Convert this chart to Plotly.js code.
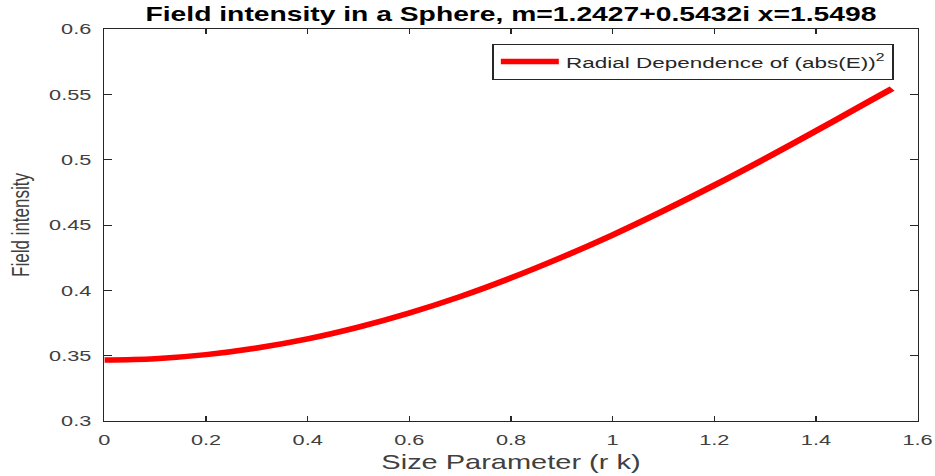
<!DOCTYPE html>
<html>
<head>
<meta charset="utf-8">
<script src="https://cdn.plot.ly/plotly-3.0.1.min.js"></script>
<style>
  html, body { margin: 0; padding: 0; background: #ffffff; }
  #frame { width: 935px; height: 476px; overflow: hidden; }
  /* the figure is drawn narrow and widened, like a stretched MATLAB export */
  #chart { width: 645px; height: 476px; transform: scaleX(1.4496); transform-origin: 0 0; }
</style>
</head>
<body>
<div id="frame"><div id="chart"></div></div>
<script>
// Radial dependence of |E|^2 inside the sphere (size parameter r*k)
const sizeParam = [0, 0.1, 0.2, 0.3, 0.4, 0.5, 0.6, 0.7, 0.8, 0.9, 1.0,
                   1.1, 1.2, 1.3, 1.4, 1.5, 1.5498];
const fieldIntensity = [0.3467, 0.3477, 0.3508, 0.3559, 0.3629, 0.3719, 0.3827,
                        0.3952, 0.4095, 0.4253, 0.4424, 0.4609, 0.4804, 0.5008,
                        0.5220, 0.5436, 0.5544];

const xTicks = [0, 0.2, 0.4, 0.6, 0.8, 1, 1.2, 1.4, 1.6];
const xTickText = ['0', '0.2', '0.4', '0.6', '0.8', '1', '1.2', '1.4', '1.6'];
const yTicks = [0.3, 0.35, 0.4, 0.45, 0.5, 0.55, 0.6];
const yTickText = ['0.3', '0.35', '0.4', '0.45', '0.5', '0.55', '0.6'];

const FONT = 'Liberation Sans, Arial, Helvetica, sans-serif';
const AXIS = '#262626';

const trace = {
  x: sizeParam,
  y: fieldIntensity,
  type: 'scatter',
  mode: 'lines',
  line: { color: '#ff0000', width: 5.5, shape: 'spline', smoothing: 1 },
  name: 'Radial Dependence of (abs(E))<sup>2</sup>'
};

const axisCommon = {
  showgrid: false,
  zeroline: false,
  showline: true,
  linecolor: AXIS,
  linewidth: 1,
  mirror: 'ticks',
  ticks: 'inside',
  ticklen: 5,
  tickwidth: 1,
  tickcolor: AXIS,
  tickfont: { family: FONT, size: 15, color: '#404040' },
  tickmode: 'array',
  fixedrange: true
};

const layout = {
  width: 645,
  height: 476,
  margin: { l: 72.4, r: 11.7, t: 29, b: 55 },
  paper_bgcolor: '#ffffff',
  plot_bgcolor: '#ffffff',
  font: { family: FONT, color: AXIS },
  title: {
    text: '<b>Field intensity in a Sphere, m=1.2427+0.5432i x=1.5498</b>',
    font: { family: FONT, size: 19.5, color: '#000000' },
    x: 0.5, xref: 'paper', xanchor: 'center',
    y: 1 - 14 / 476, yref: 'container', yanchor: 'middle'
  },
  xaxis: Object.assign({}, axisCommon, {
    range: [0, 1.6],
    tickvals: xTicks,
    ticktext: xTickText,
    ticklabelstandoff: 5,
    title: { text: 'Size Parameter (r k)', font: { family: FONT, size: 20, color: '#404040' }, standoff: 8 }
  }),
  yaxis: Object.assign({}, axisCommon, {
    range: [0.3, 0.6],
    tickvals: yTicks,
    ticktext: yTickText,
    ticklabelstandoff: 5,
    title: { text: 'Field intensity', font: { family: FONT, size: 17, color: '#404040' }, standoff: 8 }
  }),
  showlegend: true,
  legend: {
    x: 0.9706, xanchor: 'right',
    y: 0.9617, yanchor: 'top',
    bgcolor: '#ffffff',
    bordercolor: AXIS,
    borderwidth: 1,
    itemwidth: 40,
    font: { family: FONT, size: 15.5, color: '#262626' }
  }
};

Plotly.newPlot('chart', [trace], layout, { staticPlot: true, displayModeBar: false });
</script>
</body>
</html>
